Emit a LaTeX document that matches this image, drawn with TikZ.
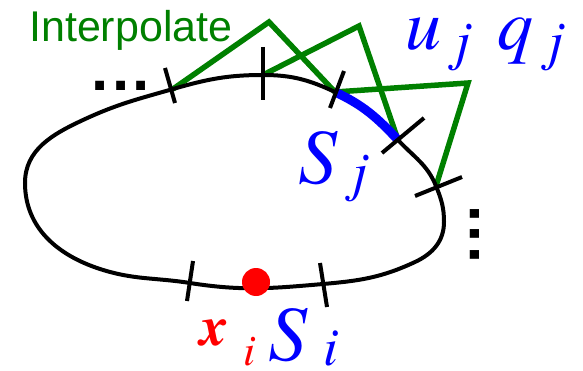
\documentclass[tikz,border=0pt]{standalone}
\usepackage{fontspec}
\newfontfamily\arialf{Liberation Sans}
\newfontfamily\timesf{texgyretermes}[Extension=.otf,UprightFont=*-regular,ItalicFont=*-italic,BoldFont=*-bold,BoldItalicFont=*-bolditalic]
\definecolor{igreen}{RGB}{0,128,0}
\definecolor{iblue}{RGB}{0,0,255}
\definecolor{ired}{RGB}{255,0,0}
\newcommand\fsz[1]{\fontsize{#1}{#1}\selectfont}
\begin{document}
\begin{tikzpicture}[x=1pt,y=1pt,
  curve/.style={line width=4pt},
  tickmark/.style={line width=4pt},
  interp/.style={draw=igreen,line width=5.5pt,line join=miter},
  lbl/.style={inner sep=0pt,anchor=base west},
  dots/.style={inner sep=0pt,font=\arialf\bfseries\fsz{62}},
]
\useasboundingbox (0,0) rectangle (583,370);
% points on the curve
\coordinate (A) at (173,281);
\coordinate (B) at (263,295);
\coordinate (C) at (335,278);
\coordinate (D) at (398,230);
\coordinate (E) at (436,184);
\coordinate (R) at (444,148);
\coordinate (P3) at (415,108);
\coordinate (G) at (323,86);
\coordinate (F) at (190,87);
\coordinate (P1) at (100,101);
\coordinate (L) at (25,187);
\coordinate (P2) at (83,250);
% apexes
\coordinate (T1) at (269,348);
\coordinate (T2) at (359,344);
\coordinate (T3) at (468,287);
% interpolation
\draw[interp] (A) -- (T1) -- (C);
\draw[interp] (B) -- (T2) -- (D);
\draw[interp] (C) -- (T3) -- (E);
% curve
\draw[curve] (A) to[out=16,in=180] (B) to[out=0,in=155] (C)
  to[out=-25,in=133] (D) to[out=-47,in=112] (E) to[out=-68,in=90] (R)
  to[out=-90,in=25] (P3) to[out=205,in=5] (G) to[out=185,in=-9] (F)
  to[out=171,in=-18] (P1) to[out=162,in=-90] (L) to[out=90,in=205] (P2)
  to[out=25,in=196] (A);
\draw[iblue,line width=9pt] (C) to[out=-25,in=133] (D);
% ticks
\coordinate (a1) at (165,302); \coordinate (a2) at (175,267);
\coordinate (b1) at (263,323); \coordinate (b2) at (263,270);
\coordinate (c1) at (344,299); \coordinate (c2) at (330,262);
\coordinate (d1) at (424,252); \coordinate (d2) at (382,217);
\coordinate (e1) at (462,193); \coordinate (e2) at (415,174);
\coordinate (f1) at (193,109); \coordinate (f2) at (187,69);
\coordinate (g1) at (320,107); \coordinate (g2) at (327,63);
\draw[tickmark] (a1) -- (a2);
\draw[tickmark] (b1) -- (b2);
\draw[tickmark] (c1) -- (c2);
\draw[tickmark] (d1) -- (d2);
\draw[tickmark] (e1) -- (e2);
\draw[tickmark] (f1) -- (f2);
\draw[tickmark] (g1) -- (g2);
% red dot
\fill[ired] (256,88) circle (14);
% dots
\node[dots] (hdots) at (121,284) {.\hspace{3.3pt}.\hspace{3.3pt}.};
\node[dots,rotate=90] (vdots) at (475,136) {.\hspace{3.3pt}.\hspace{3.3pt}.};
% labels
\node[lbl,igreen,font=\arialf\fsz{43}] (interp) at (29,328) {Interpolate};
\node[lbl,iblue,font=\timesf\itshape\fsz{72}] (u) at (405,320) {u};
\node[lbl,iblue,font=\timesf\itshape\fsz{55}] (ju) at (455,310) {j};
\node[lbl,iblue,font=\timesf\itshape\fsz{72}] (q) at (497,320) {q};
\node[lbl,iblue,font=\timesf\itshape\fsz{55}] (jq) at (548,310) {j};
\node[lbl,iblue,font=\timesf\itshape\fsz{78}] (Sj) at (298,187) {S};
\node[lbl,iblue,font=\timesf\itshape\fsz{55}] (jS) at (352,180) {j};
\node[lbl,ired,font=\timesf\bfseries\itshape\fsz{56}] (x) at (200,25) {x};
\node[lbl,ired,font=\timesf\itshape\fsz{44}] (ix) at (243,5) {i};
\node[lbl,iblue,font=\timesf\itshape\fsz{78}] (Si) at (268,10) {S};
\node[lbl,iblue,font=\timesf\itshape\fsz{54}] (iS) at (323,5) {i};
\end{tikzpicture}
\end{document}
